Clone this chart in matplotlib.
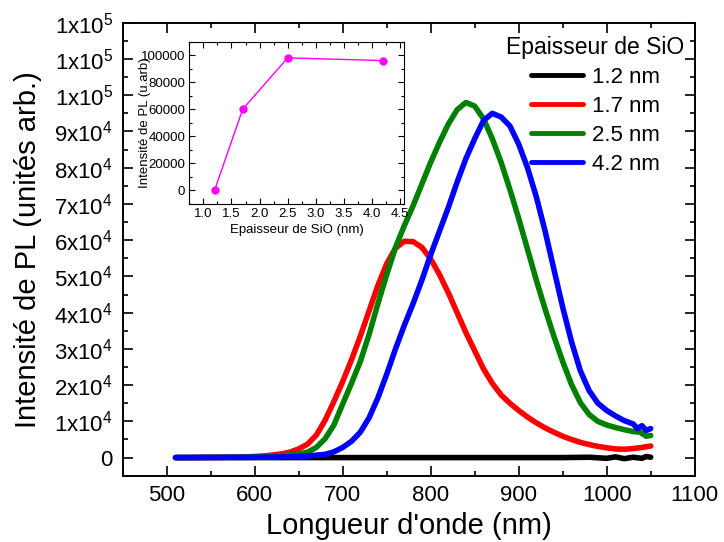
import numpy as np
import matplotlib
matplotlib.use("Agg")
import matplotlib.pyplot as plt
from matplotlib.ticker import MultipleLocator, FuncFormatter

plt.rcParams['font.family'] = ['Liberation Sans', 'DejaVu Sans']
plt.rcParams['mathtext.fontset'] = 'custom'
plt.rcParams['mathtext.rm'] = 'Liberation Sans'
plt.rcParams['mathtext.it'] = 'Liberation Sans:italic'

# --- PL spectra (wavelength nm, intensity a.u.) ---
wl_12 = [510, 600, 700, 800, 900, 950, 980, 1000, 1010, 1020, 1030, 1040, 1045, 1050]
pl_12 = [0, 0, 0, 0, 0, 0, 100, -200, 200, -300, 100, -200, 300, 100]

wl_17 = [510, 580, 600, 610, 620, 630, 640, 650, 660, 670, 680, 690, 700, 710, 720,
         730, 740, 750, 760, 770, 780, 790, 800, 810, 820, 830, 840, 850, 860, 870,
         880, 890, 900, 910, 920, 930, 940, 950, 960, 970, 980, 990, 1000, 1010,
         1020, 1030, 1040, 1050]
pl_17 = [0, 100, 300, 450, 700, 1000, 1500, 2400, 3700, 6200, 10300, 15500, 21000,
         27000, 33500, 40500, 47500, 53500, 57800, 59700, 59600, 58000, 54800, 50500,
         45500, 40000, 34500, 29500, 24500, 20500, 17300, 15000, 13000, 11200, 9600,
         8200, 7000, 5900, 5000, 4200, 3600, 3100, 2700, 2400, 2300, 2500, 2800, 3200]

wl_25 = [510, 600, 620, 640, 650, 660, 670, 680, 690, 700, 710, 720, 730, 740, 750,
         760, 770, 780, 790, 800, 810, 820, 830, 840, 850, 860, 870, 880, 890, 900,
         910, 920, 930, 940, 950, 960, 970, 980, 990, 1000, 1010, 1020, 1030, 1038,
         1045, 1050]
pl_25 = [0, 200, 400, 700, 1000, 1500, 2800, 5200, 9000, 14800, 20500, 26500, 34000,
         42500, 50500, 58000, 64000, 69500, 75500, 81500, 87000, 92000, 96000, 98000,
         97000, 93500, 88000, 81500, 74000, 66000, 57500, 49000, 41000, 33500, 26500,
         20200, 15200, 11900, 10000, 9000, 8300, 7700, 7200, 7000, 5900, 6100]

wl_42 = [510, 620, 640, 660, 680, 690, 700, 710, 720, 730, 740, 750, 760, 770, 780,
         790, 800, 810, 820, 830, 840, 850, 860, 870, 880, 890, 900, 910, 920, 930,
         940, 950, 960, 970, 980, 990, 1000, 1010, 1020, 1030, 1035, 1040, 1045, 1050]
pl_42 = [0, 100, 250, 450, 900, 1600, 2800, 4500, 7000, 11000, 16500, 23000, 30000,
         36500, 42500, 49000, 56000, 62500, 69000, 76000, 82500, 88000, 93000, 95000,
         94000, 91500, 86500, 80000, 72000, 62500, 52000, 41500, 32000, 24000, 18500,
         15000, 13000, 11500, 10200, 9300, 8000, 8800, 7500, 8000]

series_labels = ["1.2 nm", "1.7 nm", "2.5 nm", "4.2 nm"]
series_colors = ["black", "red", "green", "blue"]

# --- inset: peak intensity vs SiO thickness ---
thickness = [1.2, 1.7, 2.5, 4.2]
peak_pl = [0, 60000, 98000, 96000]


def sci_label(v, pos):
    if abs(v) < 1:
        return "0"
    e = int(np.floor(np.log10(abs(v))))
    m = int(round(v / 10 ** e))
    return r"%dx10$^{%d}$" % (m, e)


fig = plt.figure(figsize=(7.24, 5.42), dpi=100)
ax = fig.add_axes([0.1695, 0.1223, 0.79, 0.8357])

wls = [wl_12, wl_17, wl_25, wl_42]
pls = [pl_12, pl_17, pl_25, pl_42]
for w, p, lab, col in zip(wls, pls, series_labels, series_colors):
    ax.plot(w, p, color=col, lw=4, label=lab,
            solid_joinstyle='round', solid_capstyle='round')

ax.set_xlim(450, 1100)
ax.set_ylim(-5000, 120000)
ax.xaxis.set_major_locator(MultipleLocator(100))
ax.xaxis.set_minor_locator(MultipleLocator(50))
ax.yaxis.set_major_locator(MultipleLocator(10000))
ax.yaxis.set_minor_locator(MultipleLocator(5000))
ax.yaxis.set_major_formatter(FuncFormatter(sci_label))
ax.tick_params(which='both', direction='in', top=True, right=True, width=1.2)
ax.tick_params(which='major', length=7, labelsize=16, pad=7)
ax.tick_params(which='minor', length=3.5)
for s in ax.spines.values():
    s.set_linewidth(1.4)
ax.set_xlabel("Longueur d'onde (nm)", fontsize=21)
ax.set_ylabel("Intensité de PL (unités arb.)", fontsize=21, labelpad=9)

leg = ax.legend(loc='upper right', bbox_to_anchor=(0.99, 0.98), frameon=False,
                title="Epaisseur de SiO", fontsize=16, title_fontsize=16.5,
                handlelength=2.35, handletextpad=0.4, labelspacing=0.36,
                borderaxespad=0, borderpad=0.2)
for line in leg.get_lines():
    line.set_linewidth(3.5)

# inset
ins = fig.add_axes([0.2615, 0.6242, 0.2965, 0.2989])
ins.plot(thickness, peak_pl, color='#ff00ff', lw=1, marker='o', ms=5)
ins.set_xlim(0.75, 4.57)
ins.set_ylim(-10000, 110000)
ins.xaxis.set_major_locator(MultipleLocator(0.5))
ins.xaxis.set_minor_locator(MultipleLocator(0.25))
ins.yaxis.set_major_locator(MultipleLocator(20000))
ins.yaxis.set_minor_locator(MultipleLocator(10000))
ins.tick_params(which='both', direction='in', top=True, right=True, width=0.8)
ins.tick_params(which='major', length=4, labelsize=9.5, pad=3)
ins.tick_params(which='minor', length=2)
ins.set_xlabel("Epaisseur de SiO (nm)", fontsize=9.5, labelpad=3)
ins.set_ylabel("Intensité de PL (u.arb)", fontsize=9.5, labelpad=-7)

fig.savefig("out.png", dpi=100)
